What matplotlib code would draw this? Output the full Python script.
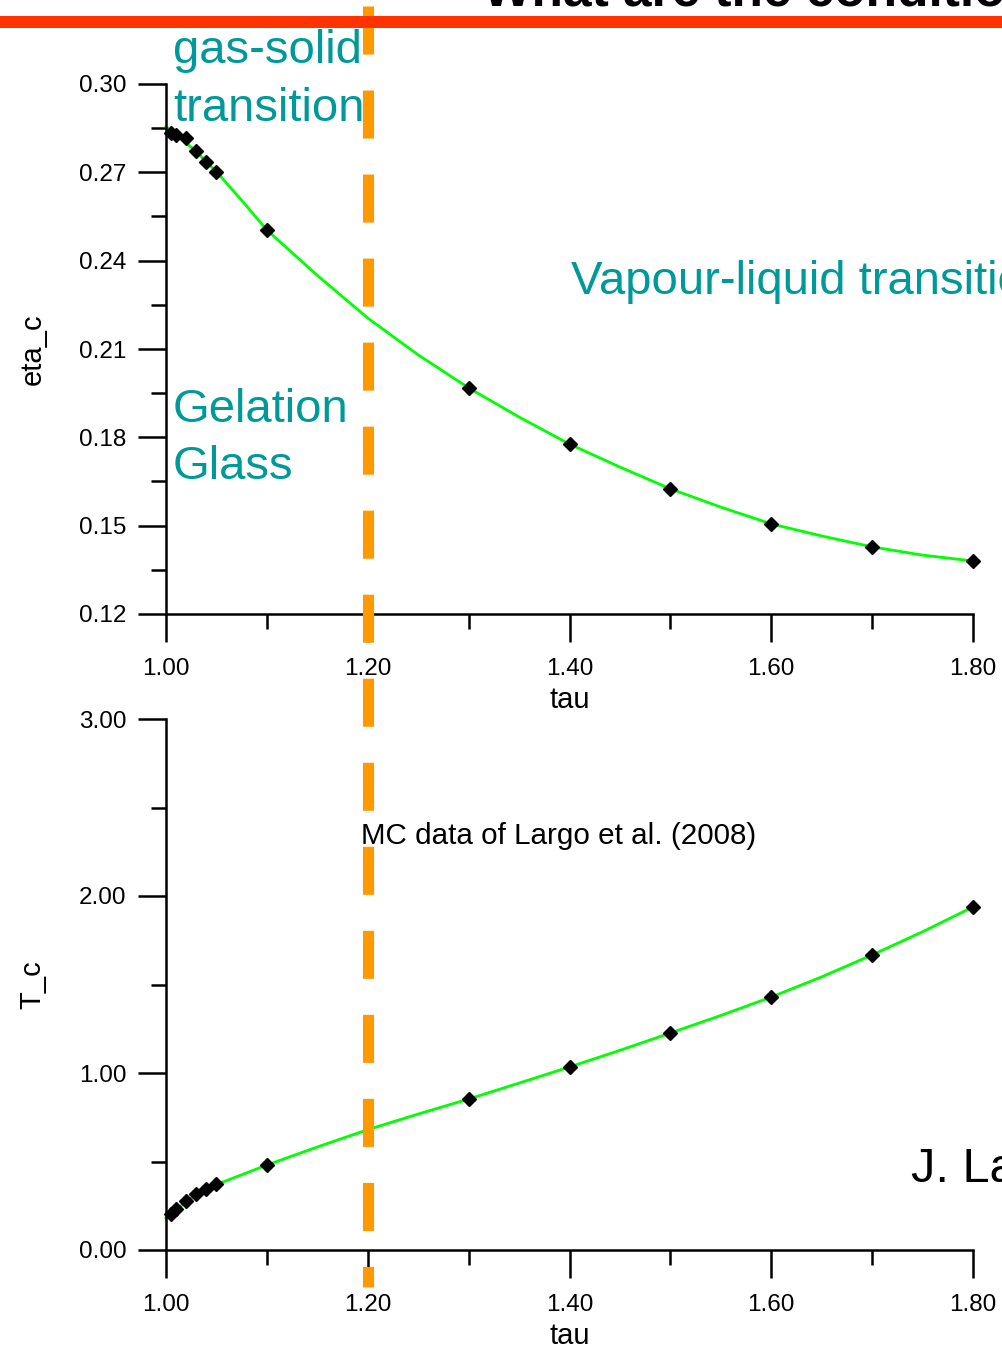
import matplotlib
matplotlib.use("Agg")
import matplotlib.pyplot as plt
from matplotlib.lines import Line2D
from matplotlib.patches import Rectangle
from matplotlib.ticker import FixedLocator, FormatStrFormatter
import matplotlib.transforms as mtransforms

plt.rcParams['font.family'] = ['Liberation Sans', 'DejaVu Sans']
plt.rcParams['lines.scale_dashes'] = False

# ---- data ----
tau_pts = [1.005, 1.01, 1.02, 1.03, 1.04, 1.05, 1.10, 1.30, 1.40, 1.50, 1.60, 1.70, 1.80]
eta_pts = [0.2835, 0.2827, 0.2817, 0.2773, 0.2734, 0.2700, 0.2504, 0.1968, 0.1777, 0.1625, 0.1506, 0.1428, 0.1380]
Tc_pts = [0.203, 0.232, 0.279, 0.316, 0.343, 0.371, 0.480, 0.853, 1.034, 1.226, 1.429, 1.667, 1.938]

curve_tau = [1.00, 1.01, 1.02, 1.03, 1.04, 1.05, 1.075, 1.10, 1.15, 1.20, 1.25, 1.30, 1.35,
             1.40, 1.45, 1.50, 1.55, 1.60, 1.65, 1.70, 1.75, 1.80]
curve_eta = [0.2855, 0.2828, 0.2800, 0.2770, 0.2736, 0.2702, 0.2605, 0.2504, 0.2350, 0.2205,
             0.2080, 0.1968, 0.1869, 0.1777, 0.1699, 0.1625, 0.1563, 0.1506, 0.1465, 0.1428,
             0.1400, 0.1380]
curve_Tc = [0.180, 0.228, 0.272, 0.310, 0.342, 0.370, 0.425, 0.480, 0.582, 0.680, 0.768, 0.853,
            0.943, 1.034, 1.128, 1.226, 1.325, 1.429, 1.543, 1.667, 1.798, 1.938]

x_major = [1.00, 1.20, 1.40, 1.60, 1.80]
x_minor = [1.10, 1.30, 1.50, 1.70]
eta_major = [0.12, 0.15, 0.18, 0.21, 0.24, 0.27, 0.30]
eta_minor = [0.135, 0.165, 0.195, 0.225, 0.255, 0.285]
Tc_major = [0.0, 1.0, 2.0, 3.0]
Tc_minor = [0.5, 1.5, 2.5]
boundary_tau = 1.20

W, H = 1003, 1348
fig = plt.figure(figsize=(W / 100, H / 100), dpi=100)

def fx(px):
    return px / W

def fy(py):
    return 1 - py / H

ax1 = fig.add_axes([fx(166), fy(614), fx(973) - fx(166), fy(84) - fy(614)])
ax2 = fig.add_axes([fx(166), fy(1250), fx(973) - fx(166), fy(719) - fy(1250)])

green = '#00FF00'
teal = '#009999'

def style(ax, ymaj, ymin, ylim, ylabel):
    ax.set_xlim(1.0, 1.8)
    ax.set_ylim(*ylim)
    for s in ['top', 'right']:
        ax.spines[s].set_visible(False)
    for s in ['left', 'bottom']:
        ax.spines[s].set_linewidth(1.8)
        ax.spines[s].set_color('black')
    ax.xaxis.set_major_locator(FixedLocator(x_major))
    ax.xaxis.set_minor_locator(FixedLocator(x_minor))
    ax.yaxis.set_major_locator(FixedLocator(ymaj))
    ax.yaxis.set_minor_locator(FixedLocator(ymin))
    ax.xaxis.set_major_formatter(FormatStrFormatter('%.2f'))
    ax.yaxis.set_major_formatter(FormatStrFormatter('%.2f'))
    ax.tick_params(which='major', length=20, width=1.8, direction='out', labelsize=17.5, colors='black')
    ax.tick_params(which='minor', length=10.5, width=1.8, direction='out')
    ax.tick_params(axis='y', which='major', pad=8.5)
    ax.tick_params(axis='x', which='major', pad=12)
    ax.set_xlabel('tau', fontsize=21)
    ax.set_ylabel(ylabel, fontsize=21)
    ax.xaxis.set_label_coords(0.5, -0.136)
    ax.yaxis.set_label_coords(-0.148, 0.5)

style(ax1, eta_major, eta_minor, (0.12, 0.30), 'eta_c')
style(ax2, Tc_major, Tc_minor, (0.0, 3.0), 'T_c')

ax1.plot(curve_tau, curve_eta, color=green, lw=2.0, zorder=2, clip_on=False)
ax1.plot(tau_pts, eta_pts, linestyle='none', marker='D', markersize=7, color='black', zorder=3, clip_on=False)
ax2.plot(curve_tau, curve_Tc, color=green, lw=2.0, zorder=2, clip_on=False)
ax2.plot(tau_pts, Tc_pts, linestyle='none', marker='D', markersize=7, color='black', zorder=3, clip_on=False)

# orange dashed boundary
blend = mtransforms.blended_transform_factory(ax1.transData, fig.transFigure)
vline = Line2D([boundary_tau, boundary_tau], [fy(6), fy(1287)], transform=blend,
               color='#FF9900', lw=8, linestyle=(0, (34.6, 25.9)), solid_capstyle='butt',
               dash_capstyle='butt', zorder=5)
fig.add_artist(vline)

# red header bar and cut-off title
fig.add_artist(Rectangle((0, fy(28)), 1, fy(16) - fy(28), transform=fig.transFigure,
                         facecolor='#FF3300', edgecolor='none', zorder=10))
fig.text(fx(483), fy(5), 'What are the conditions', fontsize=37, fontweight='bold',
         color='black', ha='left', va='baseline', zorder=11)

# annotations
fig.text(fx(173), fy(51), 'gas-solid', fontsize=34, color=teal, ha='left', va='center', zorder=12)
fig.text(fx(173), fy(109), 'transition', fontsize=34, color=teal, ha='left', va='center', zorder=12)
fig.text(fx(173), fy(410), 'Gelation', fontsize=34, color=teal, ha='left', va='center', zorder=12)
fig.text(fx(173), fy(467), 'Glass', fontsize=34, color=teal, ha='left', va='center', zorder=12)
fig.text(fx(571), fy(282), 'Vapour-liquid transition', fontsize=34, color=teal, ha='left', va='center', zorder=12)
fig.text(fx(361), fy(836), 'MC data of Largo et al. (2008)', fontsize=21.3, color='black', ha='left', va='center', zorder=12)
fig.text(fx(911), fy(1169), 'J. Largo et al.', fontsize=35, color='black', ha='left', va='center', zorder=12)

fig.savefig('out.png', dpi=100)
